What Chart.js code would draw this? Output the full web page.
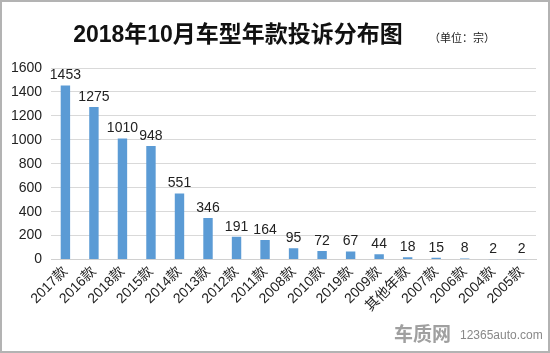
<!DOCTYPE html>
<html>
<head>
<meta charset="utf-8">
<script src="https://cdn.jsdelivr.net/npm/chart.js@4"></script>
<style>
  html, body { margin: 0; padding: 0; background: #fff; }
  #wrap { width: 546px; height: 349px; border: 2px solid #b3b3b3; position: relative; }
</style>
</head>
<body>
<div id="wrap"><canvas id="chart" width="546" height="349"></canvas></div>
<script>
const categories = ['2017款', '2016款', '2018款', '2015款', '2014款', '2013款', '2012款', '2011款', '2008款',
  '2010款', '2019款', '2009款', '其他年款', '2007款', '2006款', '2004款', '2005款'];
const complaints = [1453, 1275, 1010, 948, 551, 346, 191, 164, 95, 72, 67, 44, 18, 15, 8, 2, 2];
const titleText = '2018年10月车型年款投诉分布图';
const unitText = '（单位：宗）';

const fontFamily = '"Liberation Sans", "Noto Sans CJK SC", sans-serif';

// value labels above bars + title + watermark
const extras = {
  id: 'extras',
  afterDatasetsDraw(chart) {
    const ctx = chart.ctx;
    const meta = chart.getDatasetMeta(0);
    ctx.save();
    ctx.fillStyle = '#222';
    ctx.font = '14px ' + fontFamily;
    ctx.textAlign = 'center';
    ctx.textBaseline = 'bottom';
    meta.data.forEach((bar, i) => {
      ctx.fillText(complaints[i], bar.x, bar.y - 3);
    });

    ctx.font = 'bold 23px ' + fontFamily;
    ctx.textAlign = 'center';
    ctx.textBaseline = 'middle';
    ctx.fillStyle = '#111';
    ctx.fillText(titleText, 236, 34);

    ctx.font = '11px ' + fontFamily;
    ctx.fillStyle = '#222';
    ctx.fillText(unitText, 460, 37);

    ctx.font = 'bold 19px "Noto Sans CJK SC", sans-serif';
    ctx.fillStyle = '#a0a0a0';
    ctx.textAlign = 'left';
    ctx.fillText('车质网', 392, 332);
    ctx.font = '12px ' + fontFamily;
    ctx.fillStyle = '#888';
    ctx.fillText('12365auto.com', 458, 334);
    ctx.restore();
  }
};

new Chart(document.getElementById('chart'), {
  type: 'bar',
  data: {
    labels: categories,
    datasets: [{
      data: complaints,
      backgroundColor: '#5b9bd5',
      barPercentage: 0.33,
      categoryPercentage: 1.0
    }]
  },
  options: {
    responsive: false,
    animation: false,
    layout: { padding: { top: 66, left: 0, right: 12, bottom: 32 } },
    plugins: { legend: { display: false }, tooltip: { enabled: false } },
    scales: {
      x: {
        grid: { display: false, drawTicks: false },
        border: { color: '#d0d0d0' },
        ticks: {
          color: '#222',
          font: { size: 14, family: fontFamily },
          minRotation: 45,
          maxRotation: 45,
          padding: 4,
          autoSkip: false
        }
      },
      y: {
        min: 0,
        max: 1600,
        grid: { color: '#d9d9d9', drawTicks: false },
        border: { display: false },
        ticks: {
          stepSize: 200,
          color: '#222',
          font: { size: 14, family: fontFamily },
          padding: 9,
          callback: v => String(v)
        }
      }
    }
  },
  plugins: [extras]
});
</script>
</body>
</html>
